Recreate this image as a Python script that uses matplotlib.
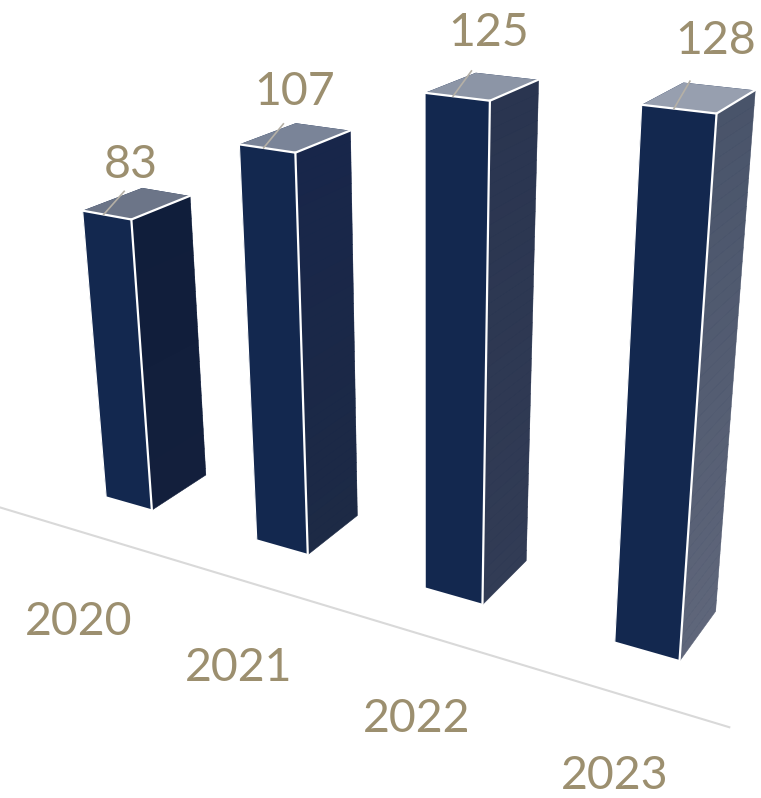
# Part 1: imports
import matplotlib
matplotlib.use("Agg")
import matplotlib.pyplot as plt
import numpy as np
from matplotlib.colors import to_rgb
from mpl_toolkits.mplot3d import proj3d
from mpl_toolkits.mplot3d.art3d import Poly3DCollection

# Part 2: data
years = ["2020", "2021", "2022", "2023"]
values = [83, 107, 125, 128]

# Part 3: styles
plt.rcParams["font.family"] = ["Lato", "DejaVu Sans"]
front_color = "#13284F"
side_top = ["#101E3B", "#18264A", "#2A3550", "#49546A"]
side_bottom = ["#131F3C", "#1D2A45", "#323C55", "#5F667A"]
top_colors = ["#6C7588", "#7A8498", "#8C95A6", "#979FAF"]
label_color = "#9C8F6F"
bar_w = 0.315
bar_d = 0.48

fig = plt.figure(figsize=(7.61, 7.98), dpi=100)
ax = fig.add_axes([0.047, 0.079, 1, 1], projection="3d", computed_zorder=False)
ax.set_proj_type("persp", focal_length=0.38)
ax.view_init(elev=21, azim=-61)
ax.set_xlim(-0.4, 4.1)
ax.set_ylim(-1, 1)
ax.set_zlim(0, 140)
ax.set_box_aspect((4.5, 2, 2.75), zoom=1.57)
ax.set_axis_off()


def flat_text(x, y, z, s):
    # place the label at the projected spot, as plain 2D text
    px, py, _ = proj3d.proj_transform(x, y, z, ax.get_proj())
    ax.text2D(px, py, s, transform=ax.transData, color=label_color,
              fontsize=33.5, ha="center", va="center")


for i, v in enumerate(values):
    x0 = i - bar_w / 2
    x1 = x0 + bar_w
    # bottom, top, front, back, left, right
    bar = ax.bar3d(x0, 0, 0, bar_w, bar_d, v, shade=False, zorder=5,
                   color=["#FFFFFF", top_colors[i], front_color, front_color, front_color, front_color],
                   edgecolor="none")
    bar.set_clip_on(False)

    # right hand face fades from top to bottom
    zs = np.linspace(0, v, 41)
    c0, c1 = np.array(to_rgb(side_bottom[i])), np.array(to_rgb(side_top[i]))
    for k in range(40):
        col = c0 + (c1 - c0) * k / 39
        strip = Poly3DCollection(
            [[(x1, 0, zs[k]), (x1, bar_d, zs[k]), (x1, bar_d, zs[k + 1]), (x1, 0, zs[k + 1])]],
            facecolor=col, edgecolor=col, linewidth=0.4, zorder=10)
        ax.add_collection3d(strip, autolim=False)
        strip.set_clip_on(False)

    # white edges on the visible corners
    ax.plot([x1, x1], [0, 0], [0, v], color="white", lw=1.6, zorder=20, clip_on=False)
    ax.plot([x0, x1, x1], [0, 0, bar_d], [v, v, v], color="white", lw=1.6, zorder=20, clip_on=False)
    ax.plot([x0, x0], [0, 0], [0, v], color="white", lw=0.8, zorder=20, clip_on=False)
    # leader line
    ax.plot([i - 0.02, i - 0.02], [0, 0.17], [v, v + 4], color="#B5B0A6", lw=1.2, zorder=21, clip_on=False)
    flat_text(i * 0.985 + bar_w / 2 + 0.02, 0, v + 14.5, str(v))
    flat_text(0.885 * i + 0.57, -1.07 + 0.05 * i, 0, years[i])

# floor line
ax.plot([-0.78, 3.52], [-0.38, -0.38], [0, 0], color="#D9D9D9", lw=1.5, zorder=1, clip_on=False)

fig.savefig("out.png", dpi=100)
